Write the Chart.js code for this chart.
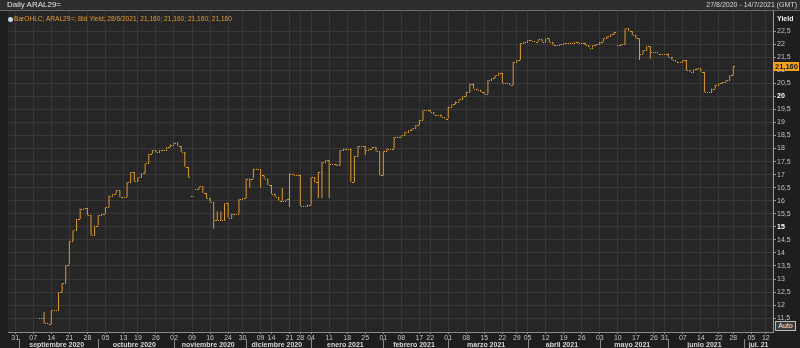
<!DOCTYPE html>
<html>
<head>
<meta charset="utf-8">
<script src="https://cdn.jsdelivr.net/npm/chart.js@4.4.0/dist/chart.umd.min.js"></script>
<style>
body { margin: 0; background: #1e1e1e; overflow: hidden; }
#panel { position: relative; width: 800px; height: 348px; font-family: "Liberation Sans", Arial, sans-serif; }
#cabecera { position: absolute; left: 0; top: 0; width: 800px; height: 10px; background: #2e2e2e; border-bottom: 1px solid #6a6a6a; }
#titulo { position: absolute; left: 7px; top: 0px; font-size: 8px; color: #e4e4e4; line-height: 10px; }
#rango { position: absolute; right: 3px; top: 0px; font-size: 7px; color: #d8d8d8; line-height: 10px; }
#leyenda { position: absolute; left: 8px; top: 15px; font-size: 6.6px; color: #e59c2f; line-height: 8px; white-space: nowrap; }
#leyenda span.icono { display: inline-block; width: 5px; height: 5px; border-radius: 50%; background: #c8d4e8; margin-right: 1px; vertical-align: -0.5px; }
#yield { position: absolute; left: 777px; top: 15px; font-size: 7px; font-weight: bold; color: #f0f0f0; }
#auto { position: absolute; left: 775px; top: 321px; width: 19px; height: 8px; border: 1px solid #bdbdbd; background: #3a3a3a; color: #f0f0f0; font-size: 7px; line-height: 8px; text-align: center; }
canvas { position: absolute; left: 0; top: 0; }
</style>
</head>
<body>
<div id="panel">
  <canvas id="grafico" width="800" height="348"></canvas>
  <div id="cabecera"><div id="titulo">Daily ARAL29=</div><div id="rango">27/8/2020 - 14/7/2021 (GMT)</div></div>
  <div id="leyenda"><span class="icono"></span><span id="textoLeyenda"></span></div>
  <div id="yield">Yield</div>
  <div id="auto">Auto</div>
</div>
<script>
// feriados del mercado (no hay rueda esos dias)
const feriados = ['2020-10-12','2020-11-23','2020-12-07','2020-12-08','2020-12-24','2020-12-25','2020-12-31',
  '2021-01-01','2021-02-15','2021-02-16','2021-03-24','2021-04-01','2021-04-02','2021-05-24','2021-05-25',
  '2021-06-21','2021-07-09'];

// etiquetas de dia del eje x
const etiquetasDia = ['2020-08-31','2020-09-07','2020-09-14','2020-09-21','2020-09-28','2020-10-05','2020-10-13',
  '2020-10-19','2020-10-26','2020-11-02','2020-11-09','2020-11-16','2020-11-24','2020-11-30','2020-12-09',
  '2020-12-14','2020-12-21','2020-12-28','2021-01-04','2021-01-11','2021-01-18','2021-01-25','2021-02-01',
  '2021-02-08','2021-02-17','2021-02-22','2021-03-01','2021-03-08','2021-03-15','2021-03-22','2021-03-29',
  '2021-04-05','2021-04-12','2021-04-19','2021-04-26','2021-05-03','2021-05-10','2021-05-17','2021-05-26',
  '2021-05-31','2021-06-07','2021-06-14','2021-06-22','2021-06-28','2021-07-05','2021-07-12'];

const clavesMes = ['2020-09','2020-10','2020-11','2020-12','2021-01','2021-02','2021-03','2021-04','2021-05','2021-06','2021-07'];
const etiquetasMes = ['septiembre 2020','octubre 2020','noviembre 2020','diciembre 2020','enero 2021','febrero 2021',
  'marzo 2021','abril 2021','mayo 2021','junio 2021','jul. 21'];

const marcasY = [11.5,12,12.5,13,13.5,14,14.5,15,15.5,16,16.5,17,17.5,18,18.5,19,19.5,20,20.5,21,21.5,22,22.5];

// cierres diarios (Bid Yield) desde el primer dia con datos
const primerDia = '2020-09-09';
const cierre = [
  11.5, 11.3, 11.28, 11.8, 11.8, 12.5, 12.85, 13.55, 14.45, 14.86,
  15.3, 15.7, 15.72, 15.44, 14.67, 15.05, 15.44, 15.5, 15.75, 16.2,
  16.27, 16.4, 16.14, 16.14, 16.72, 17.1, 16.75, 16.9, 17.05, 17.43,
  17.8, 17.93, 17.85, 17.93, 17.95, 18.06, 18.15, 18.23, 18.1, 17.87,
  17.3, 16.9, 16.2, 16.46, 16.55, 16.3, 16.1, 15.95, 15.25, 15.25,
  15.25, 15.9, 15.35, 15.5, 15.5, 16.08, 16.1, 16.85, 16.85, 17.23,
  17.2, 16.97, 16.85, 16.6, 16.27, 16.15, 16.0, 16.0, 16.05, 17.04,
  17.0, 17.0, 15.8, 15.8, 15.85, 16.9, 16.7, 17.1, 17.48, 17.55,
  17.4, 17.4, 17.35, 17.93, 18.0, 18.0, 16.72, 17.7, 18.1, 18.1,
  17.95, 18.0, 18.06, 17.9, 16.97, 17.9, 18.0, 18.0, 18.44, 18.45,
  18.5, 18.64, 18.7, 18.77, 18.9, 19.08, 19.47, 19.47, 19.4, 19.3,
  19.3, 19.2, 19.15, 19.6, 19.7, 19.8, 19.9, 20.0, 20.17, 20.49,
  20.3, 20.25, 20.17, 20.1, 20.62, 20.7, 20.8, 20.9, 20.5, 20.5,
  20.43, 21.32, 21.39, 22.03, 22.09, 22.15, 22.12, 22.1, 22.18, 22.08,
  22.22, 22.07, 21.96, 21.96, 22.0, 22.03, 22.03, 22.05, 22.09, 22.03,
  22.05, 21.96, 21.87, 21.96, 22.0, 22.09, 22.22, 22.3, 22.38, 22.47,
  21.96, 22.0, 22.6, 22.5, 22.35, 22.22, 21.64, 21.77, 21.92, 21.7,
  21.7, 21.64, 21.64, 21.64, 21.52, 21.39, 21.33, 21.33, 21.39, 21.0,
  20.94, 21.03, 21.07, 20.94, 20.17, 20.17, 20.3, 20.43, 20.5, 20.55,
  20.62, 20.81, 21.16
];
// dias cuya apertura no coincide con el cierre anterior
const aperturas = [['2020-11-09', 16.2], ['2020-11-10', 16.46], ['2021-05-10', 21.96]];
// maximos y minimos intradiarios fuera del rango apertura/cierre
const maximos = [['2020-09-10', 11.75], ['2020-11-18', 15.6], ['2020-11-19', 15.6], ['2020-12-17', 16.5]];
const minimos = [['2020-11-17', 14.93], ['2020-12-02', 16.5], ['2020-12-09', 16.5], ['2020-12-21', 15.76],
  ['2021-01-06', 16.1], ['2021-01-07', 16.1], ['2021-01-11', 16.1], ['2021-01-25', 17.75],
  ['2021-05-18', 21.39], ['2021-05-21', 21.45]];

const naranja = '#dc9a32';
const fuente = '"Liberation Sans", Arial, sans-serif';

// dias habiles del eje
const fechas = [];
for (let d = new Date(Date.UTC(2020, 7, 27)); d <= new Date(Date.UTC(2021, 6, 14)); d.setUTCDate(d.getUTCDate() + 1)) {
  const iso = d.toISOString().slice(0, 10);
  const dow = d.getUTCDay();
  if (dow === 0 || dow === 6 || feriados.includes(iso)) continue;
  fechas.push(iso);
}

// armar las velas OHLC
const velas = fechas.map(() => null);
const inicio = fechas.indexOf(primerDia);
cierre.forEach((c, k) => {
  const fecha = fechas[inicio + k];
  const ap = aperturas.find(a => a[0] === fecha);
  const o = ap ? ap[1] : (k > 0 ? cierre[k - 1] : c);
  const mx = maximos.find(a => a[0] === fecha);
  const mn = minimos.find(a => a[0] === fecha);
  velas[inicio + k] = {
    o: o, c: c,
    h: Math.max(o, c, mx ? mx[1] : -Infinity),
    l: Math.min(o, c, mn ? mn[1] : Infinity)
  };
});

const meses = clavesMes.map(k => {
  const idx = fechas.map((f, i) => f.startsWith(k) ? i : -1).filter(i => i >= 0);
  return { primero: idx[0], centro: (idx[0] + idx[idx.length - 1]) / 2 };
});

const fmt = v => v.toFixed(3).replace('.', ',');
const ultimo = cierre[cierre.length - 1];
const fechaUltima = fechas[inicio + cierre.length - 1].split('-');
document.getElementById('textoLeyenda').textContent = 'BarOHLC; ARAL29=; Bid Yield; ' +
  (+fechaUltima[2]) + '/' + (+fechaUltima[1]) + '/' + fechaUltima[0] + '; ' +
  [ultimo, ultimo, ultimo, ultimo].map(fmt).join('; ');

const esEntero = v => Math.abs(v % 5) < 1e-9;

const pluginOHLC = {
  id: 'ohlc',
  beforeDraw(chart) {
    const a = chart.chartArea, ctx = chart.ctx;
    ctx.save();
    ctx.fillStyle = '#262626';
    ctx.fillRect(a.left, 0, a.right - a.left, a.bottom);
    ctx.restore();
  },
  afterDatasetsDraw(chart) {
    const ctx = chart.ctx, y = chart.scales.y;
    const meta = chart.getDatasetMeta(0);
    ctx.save();
    ctx.fillStyle = naranja;
    meta.data.forEach((bar, i) => {
      const v = velas[i];
      if (!v) return;
      const x = Math.round(bar.x);
      ctx.fillRect(x - 1, Math.round(y.getPixelForValue(v.o)), 1, 1);
      ctx.fillRect(x + 1, Math.round(y.getPixelForValue(v.c)), 1, 1);
    });
    ctx.restore();
  },
  afterDraw(chart) {
    const ctx = chart.ctx, x = chart.scales.x, y = chart.scales.y;
    ctx.save();
    // separadores de mes
    ctx.fillStyle = '#8a8a8a';
    meses.forEach(m => {
      ctx.fillRect(Math.round(x.getPixelForValue(m.primero)), 339, 1, 9);
    });
    // etiqueta del ultimo valor
    const yy = Math.round(y.getPixelForValue(ultimo));
    ctx.fillStyle = '#f3a21f';
    ctx.fillRect(773, yy - 4, 26, 9);
    ctx.fillStyle = '#1a1a1a';
    ctx.font = 'bold 7.5px ' + fuente;
    ctx.textBaseline = 'middle';
    ctx.fillText(fmt(ultimo), 775, yy + 0.5);
    ctx.restore();
  }
};

new Chart(document.getElementById('grafico'), {
  type: 'bar',
  data: {
    labels: fechas,
    datasets: [{
      data: velas.map(v => v ? [v.l, v.h] : null),
      backgroundColor: naranja,
      barThickness: 1,
      inflateAmount: 0,
      borderWidth: 0
    }]
  },
  options: {
    responsive: false,
    animation: false,
    layout: { padding: { left: 8, top: 11, right: 0, bottom: 0 } },
    plugins: { legend: { display: false }, tooltip: { enabled: false } },
    scales: {
      x: {
        type: 'category',
        offset: false,
        grid: { offset: false, color: '#363636', tickLength: 2, tickColor: '#8a8a8a' },
        border: { color: '#8a8a8a' },
        afterBuildTicks: s => { s.ticks = etiquetasDia.map(f => ({ value: fechas.indexOf(f) })); },
        afterFit: s => { s.height = 8; },
        ticks: {
          autoSkip: false, maxRotation: 0, padding: 0,
          color: '#c4c4c4', font: { size: 7, family: fuente },
          callback: v => (fechas[v] || '').slice(8, 10)
        }
      },
      x2: {
        type: 'category',
        position: 'bottom',
        offset: false,
        grid: { display: false, drawTicks: false },
        border: { display: false },
        afterBuildTicks: s => { s.ticks = meses.map(m => ({ value: m.centro })); },
        afterFit: s => { s.height = 8; },
        ticks: {
          autoSkip: false, maxRotation: 0, padding: 1,
          color: '#d6d6d6', font: { size: 7, weight: 'bold', family: fuente },
          callback: (v, i) => etiquetasMes[i]
        }
      },
      y: {
        position: 'right',
        min: 10.97,
        max: 23.27,
        grid: { color: '#383838', tickLength: 3, tickColor: '#9a9a9a' },
        border: { color: '#9a9a9a' },
        afterBuildTicks: s => { s.ticks = marcasY.map(v => ({ value: v })); },
        afterFit: s => { s.width = 27; },
        ticks: {
          padding: 1,
          color: ctx => (ctx.tick && esEntero(ctx.tick.value)) ? '#ffffff' : '#c4c4c4',
          font: ctx => ({ size: 7, weight: (ctx.tick && esEntero(ctx.tick.value)) ? 'bold' : 'normal', family: fuente }),
          callback: v => String(v).replace('.', ',')
        }
      }
    }
  },
  plugins: [pluginOHLC]
});
</script>
</body>
</html>
